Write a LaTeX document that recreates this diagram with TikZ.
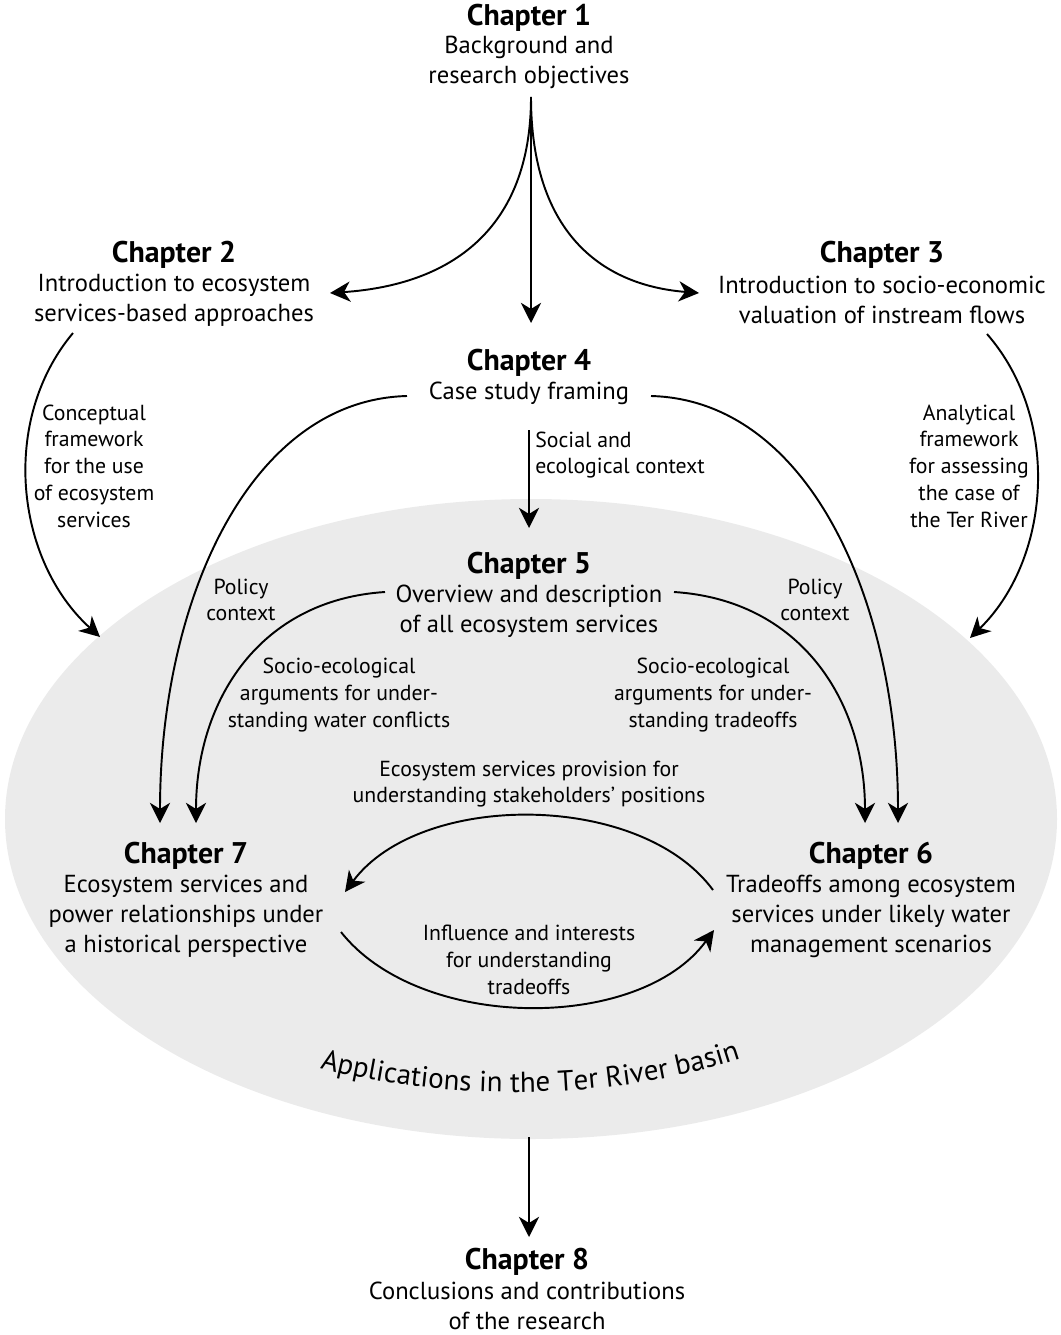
\documentclass[tikz,border=0pt]{standalone}
\usepackage{fontspec}
\setmainfont{PT Sans}
\usetikzlibrary{arrows.meta,calc,decorations.text}

\newcommand\arcfont{\fontsize{16.5}{19}\selectfont}

\tikzset{
  chead/.style={font=\fontsize{17}{19}\selectfont\bfseries, inner sep=0pt},
  cbody/.style={font=\fontsize{14}{17.1}\selectfont, align=center, inner sep=0pt},
  lbl/.style={font=\fontsize{12.4}{15.2}\selectfont, align=center, inner sep=0pt},
  link/.style={->, line width=1.1pt},
}

\begin{document}
\begin{tikzpicture}[>={Stealth[length=11.5pt,width=11.5pt,inset=3.5pt]}, x=0.02cm, y=-0.02cm]
    \useasboundingbox (0,0) rectangle (1061,1335);
    % basin
    \fill[black!8] (531,819) ellipse [x radius=526, y radius=320];
    \path[decorate, decoration={text along path, text align=center,
        text={|\arcfont|Applications in the Ter River basin}}]
        (306,1064) .. controls (436,1104) and (624,1102) .. (754,1054);

    % chapters
    \node[chead] (t1) at (529,18) {Chapter 1};
    \node[cbody] (b1) at (529,62) {Background and\\research objectives};
    \node[chead] (t2) at (174,255) {Chapter 2};
    \node[cbody] (b2) at (174,300) {Introduction to ecosystem\\services-based approaches};
    \node[chead] (t3) at (882,255) {Chapter 3};
    \node[cbody] (b3) at (882,300) {Introduction to socio-economic\\valuation of instream flows};
    \node[chead] (t4) at (529,363) {Chapter 4};
    \node[cbody] (b4) at (529,393) {Case study framing};
    \node[chead] (t5) at (529,566) {Chapter 5};
    \node[cbody] (b5) at (529,611) {Overview and description\\of all ecosystem services};
    \node[chead] (t7) at (186,856) {Chapter 7};
    \node[cbody] (b7) at (186,916) {Ecosystem services and\\power relationships under\\a historical perspective};
    \node[chead] (t6) at (871,856) {Chapter 6};
    \node[cbody] (b6) at (871,916) {Tradeoffs among ecosystem\\services under likely water\\management scenarios};
    \node[chead] (t8) at (527,1262) {Chapter 8};
    \node[cbody] (b8) at (527,1306) {Conclusions and contributions\\of the research};

    % labels
    \node[lbl] (lconc) at (94,466) {Conceptual\\framework\\for the use\\of ecosystem\\services};
    \node[lbl] (lanal) at (969,466) {Analytical\\framework\\for assessing\\the case of\\the Ter River};
    \node[lbl, align=left, anchor=west] (lsoc) at (535,455) {Social and\\ecological context};
    \node[lbl] (lpol7) at (241,600) {Policy\\context};
    \node[lbl] (lpol6) at (815,600) {Policy\\context};
    \node[lbl] (lse7) at (339,695) {Socio-ecological\\arguments for under-\\standing water conflicts};
    \node[lbl] (lse6) at (713,695) {Socio-ecological\\arguments for under-\\standing tradeoffs};
    \node[lbl] (lprov) at (529,784) {Ecosystem services provision for\\understanding stakeholders’ positions};
    \node[lbl] (linfl) at (529,960) {Influence and interests\\for understanding\\tradeoffs};

    \coordinate (e2) at (100,637);
    \coordinate (e3) at (970,638);
    \coordinate (ebot) at (529,1137);

    % connectors
    \draw[link] ($(b1)+(2,35)$) .. controls +(0,133) and +(120,-8) .. ($(b2)+(156,-7)$);
    \draw[link] ($(b1)+(2,35)$) .. controls +(0,133) and +(-100,-8) .. ($(b3)+(-183,-7)$);
    \draw[link] ($(b1)+(2,35)$) -- ($(t4)+(2,-40)$);
    \draw[link] ($(b2)+(-101,33)$) .. controls +(-73,87) and +(-85,-77) .. (e2);
    \draw[link] ($(b3)+(105,34)$) .. controls +(75,86) and +(80,-78) .. (e3);
    \draw[link] ($(b4)+(-122,3)$) .. controls +(-157,4) and +(0,-223) .. ($(t7)+(-26,-33)$);
    \draw[link] ($(b4)+(122,3)$) .. controls +(157,4) and +(0,-223) .. ($(t6)+(27,-33)$);
    \draw[link] ($(b4)+(0,37)$) -- ($(t5)+(0,-38)$);
    \draw[link] ($(b5)+(-144,-19)$) .. controls +(-125,8) and +(0,-123) .. ($(t7)+(10,-33)$);
    \draw[link] ($(b5)+(145,-19)$) .. controls +(126,8) and +(0,-123) .. ($(t6)+(-6,-33)$);
    \draw[link] ($(b6)+(-158,-26)$) .. controls +(-73,-99) and +(75,-101) .. ($(b7)+(159,-24)$);
    \draw[link] ($(b7)+(155,16)$) .. controls +(79,100) and +(-74,102) .. ($(b6)+(-157,14)$);
    \draw[link] (ebot) -- ($(t8)+(2,-25)$);
\end{tikzpicture}
\end{document}
